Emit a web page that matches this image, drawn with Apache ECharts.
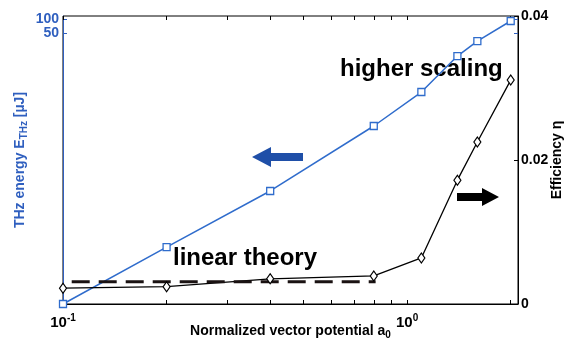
<!DOCTYPE html>
<html>
<head>
<meta charset="utf-8">
<script src="https://cdn.jsdelivr.net/npm/echarts@6/dist/echarts.min.js"></script>
<style>
  html, body { margin: 0; padding: 0; background: #fff; }
  #chart { width: 568px; height: 343px; }
</style>
</head>
<body>
<div id="chart"></div>
<script>
// normalized vector potential a0
var a0 = [0.1, 0.2, 0.4, 0.8, 1.1, 1.4, 1.6, 2.0];
// THz energy [uJ] (left, log)
var energy = [0.0001, 0.00158, 0.0239, 0.557, 2.89, 16.5, 34.2, 90.2];
// efficiency (right, linear)
var efficiency = [0.0022, 0.0024, 0.0035, 0.0039, 0.0064, 0.0172, 0.0225, 0.0311];
// linear theory (dashed)
var theoryX = [0.106, 0.81];
var theoryY = [0.0031, 0.0031];
// ticks
var xTicks = [0.1, 0.2, 0.3, 0.4, 0.5, 0.6, 0.7, 0.8, 0.9, 1, 2];
var xLabels = [0.1, 1];
var leftTicks = [50, 100];
var rightTicks = [0, 0.02, 0.04];

var BLUE = '#2f6ccc';
var BLUE_TXT = '#2f5fbf';
var FONT = '"Liberation Sans", Arial, sans-serif';

var chart = echarts.init(document.getElementById('chart'));

var option = {
  backgroundColor: '#fff',
  animation: false,
  grid: {
    left: 63, right: 50, top: 16, bottom: 39,
    outerBoundsMode: 'none', containLabel: false,
    show: true, borderColor: '#000', borderWidth: 1
  },
  xAxis: [{
    type: 'log', logBase: 10, min: 0.1, max: 2.1,
    name: 'Normalized vector potential a{sub|0}',
    nameLocation: 'middle', nameGap: 18, nameMoveOverlap: false,
    nameTextStyle: {
      fontFamily: FONT, fontWeight: 'bold', fontSize: 14, color: '#000',
      rich: { sub: { fontFamily: FONT, fontWeight: 'bold', fontSize: 10, color: '#000', verticalAlign: 'bottom', padding: [8, 0, 0, 0] } }
    },
    axisLine: { lineStyle: { color: '#000', width: 1 } },
    axisTick: { inside: true, length: 4, customValues: xTicks, lineStyle: { color: '#000' } },
    splitLine: { show: false },
    minorTick: { show: false },
    axisLabel: {
      customValues: xLabels,
      margin: 9,
      formatter: function (v) {
        var e = Math.round(Math.log(v) / Math.LN10);
        return '{b|10}{s|' + e + '}';
      },
      rich: {
        b: { fontFamily: FONT, fontWeight: 'bold', fontSize: 15, color: '#000' },
        s: { fontFamily: FONT, fontWeight: 'bold', fontSize: 10, color: '#000', padding: [0, 0, 10, 0] }
      }
    }
  }, {
    // mirrored ticks on top
    type: 'log', logBase: 10, min: 0.1, max: 2.1, position: 'top',
    axisLine: { show: false },
    axisTick: { inside: true, length: 4, customValues: xTicks, lineStyle: { color: '#000' } },
    axisLabel: { show: false },
    splitLine: { show: false }
  }],
  yAxis: [{
    type: 'log', logBase: 10, min: 0.0001, max: 115, position: 'left',
    name: 'THz energy E{sub|THz} [µJ]',
    nameLocation: 'middle', nameGap: 34, nameRotate: 90, nameMoveOverlap: false,
    nameTextStyle: {
      fontFamily: FONT, fontWeight: 'bold', fontSize: 14, color: BLUE_TXT,
      rich: { sub: { fontFamily: FONT, fontWeight: 'bold', fontSize: 10, color: BLUE_TXT, padding: [8, 0, 0, 0] } }
    },
    axisLine: { show: true, lineStyle: { color: BLUE_TXT, width: 1 } },
    axisTick: { inside: true, length: 4, customValues: leftTicks, lineStyle: { color: BLUE_TXT } },
    splitLine: { show: false },
    axisLabel: {
      customValues: leftTicks, margin: 4, interval: 0, hideOverlap: false,
      fontFamily: FONT, fontWeight: 'bold', fontSize: 14, color: BLUE_TXT
    }
  }, {
    type: 'value', min: 0, max: 0.04, interval: 0.02, position: 'right', offset: 0,
    name: 'Efficiency η',
    nameLocation: 'middle', nameGap: 32, nameRotate: 90, nameMoveOverlap: false,
    nameTextStyle: { fontFamily: FONT, fontWeight: 'bold', fontSize: 14, color: '#000' },
    axisLine: { show: true, lineStyle: { color: '#000', width: 1 } },
    axisTick: { inside: true, length: 4, customValues: rightTicks, lineStyle: { color: '#000' } },
    splitLine: { show: false },
    axisLabel: {
      customValues: rightTicks, margin: 3,
      fontFamily: FONT, fontWeight: 'bold', fontSize: 14, color: '#000',
      formatter: function (v) { return v === 0 ? '0' : v.toFixed(2); }
    }
  }, {
    // blue ticks of the energy axis mirrored on the right
    type: 'log', logBase: 10, min: 0.0001, max: 115, position: 'right', offset: 0,
    axisLine: { show: false },
    axisTick: { inside: true, length: 4, customValues: leftTicks, lineStyle: { color: BLUE_TXT } },
    axisLabel: { show: false },
    splitLine: { show: false }
  }],
  series: [{
    name: 'energy', type: 'line', yAxisIndex: 0, clip: false,
    data: a0.map(function (x, i) { return [x, energy[i]]; }),
    lineStyle: { color: BLUE, width: 1.5 },
    itemStyle: { color: '#fff', borderColor: BLUE, borderWidth: 1.3 },
    symbol: 'rect', symbolSize: 7, showSymbol: true
  }, {
    name: 'efficiency', type: 'line', yAxisIndex: 1, clip: false,
    data: a0.map(function (x, i) { return [x, efficiency[i]]; }),
    lineStyle: { color: '#000', width: 1.3 },
    itemStyle: { color: '#fff', borderColor: '#000', borderWidth: 1.2 },
    symbol: 'diamond', symbolSize: [7, 10], showSymbol: true
  }, {
    name: 'linear theory', type: 'line', yAxisIndex: 1, clip: false,
    data: theoryX.map(function (x, i) { return [x, theoryY[i]]; }),
    lineStyle: { color: '#1a1212', width: 3, type: [18, 9] },
    symbol: 'none'
  }],
  graphic: [{
    type: 'text', left: 340, top: 57,
    style: { text: 'higher scaling', font: 'bold 24px ' + FONT, fill: '#000' }
  }, {
    type: 'text', left: 173, top: 246,
    style: { text: 'linear theory', font: 'bold 24px ' + FONT, fill: '#000' }
  }, {
    // blue arrow pointing left
    type: 'polygon',
    shape: { points: [[252, 157], [271, 147], [271, 153], [303, 153], [303, 161], [271, 161], [271, 167]] },
    style: { fill: '#1f4fa8' }
  }, {
    // black arrow pointing right
    type: 'polygon',
    shape: { points: [[499, 197], [482, 188], [482, 193], [457, 193], [457, 201], [482, 201], [482, 206]] },
    style: { fill: '#000' }
  }]
};

chart.setOption(option);
</script>
</body>
</html>
